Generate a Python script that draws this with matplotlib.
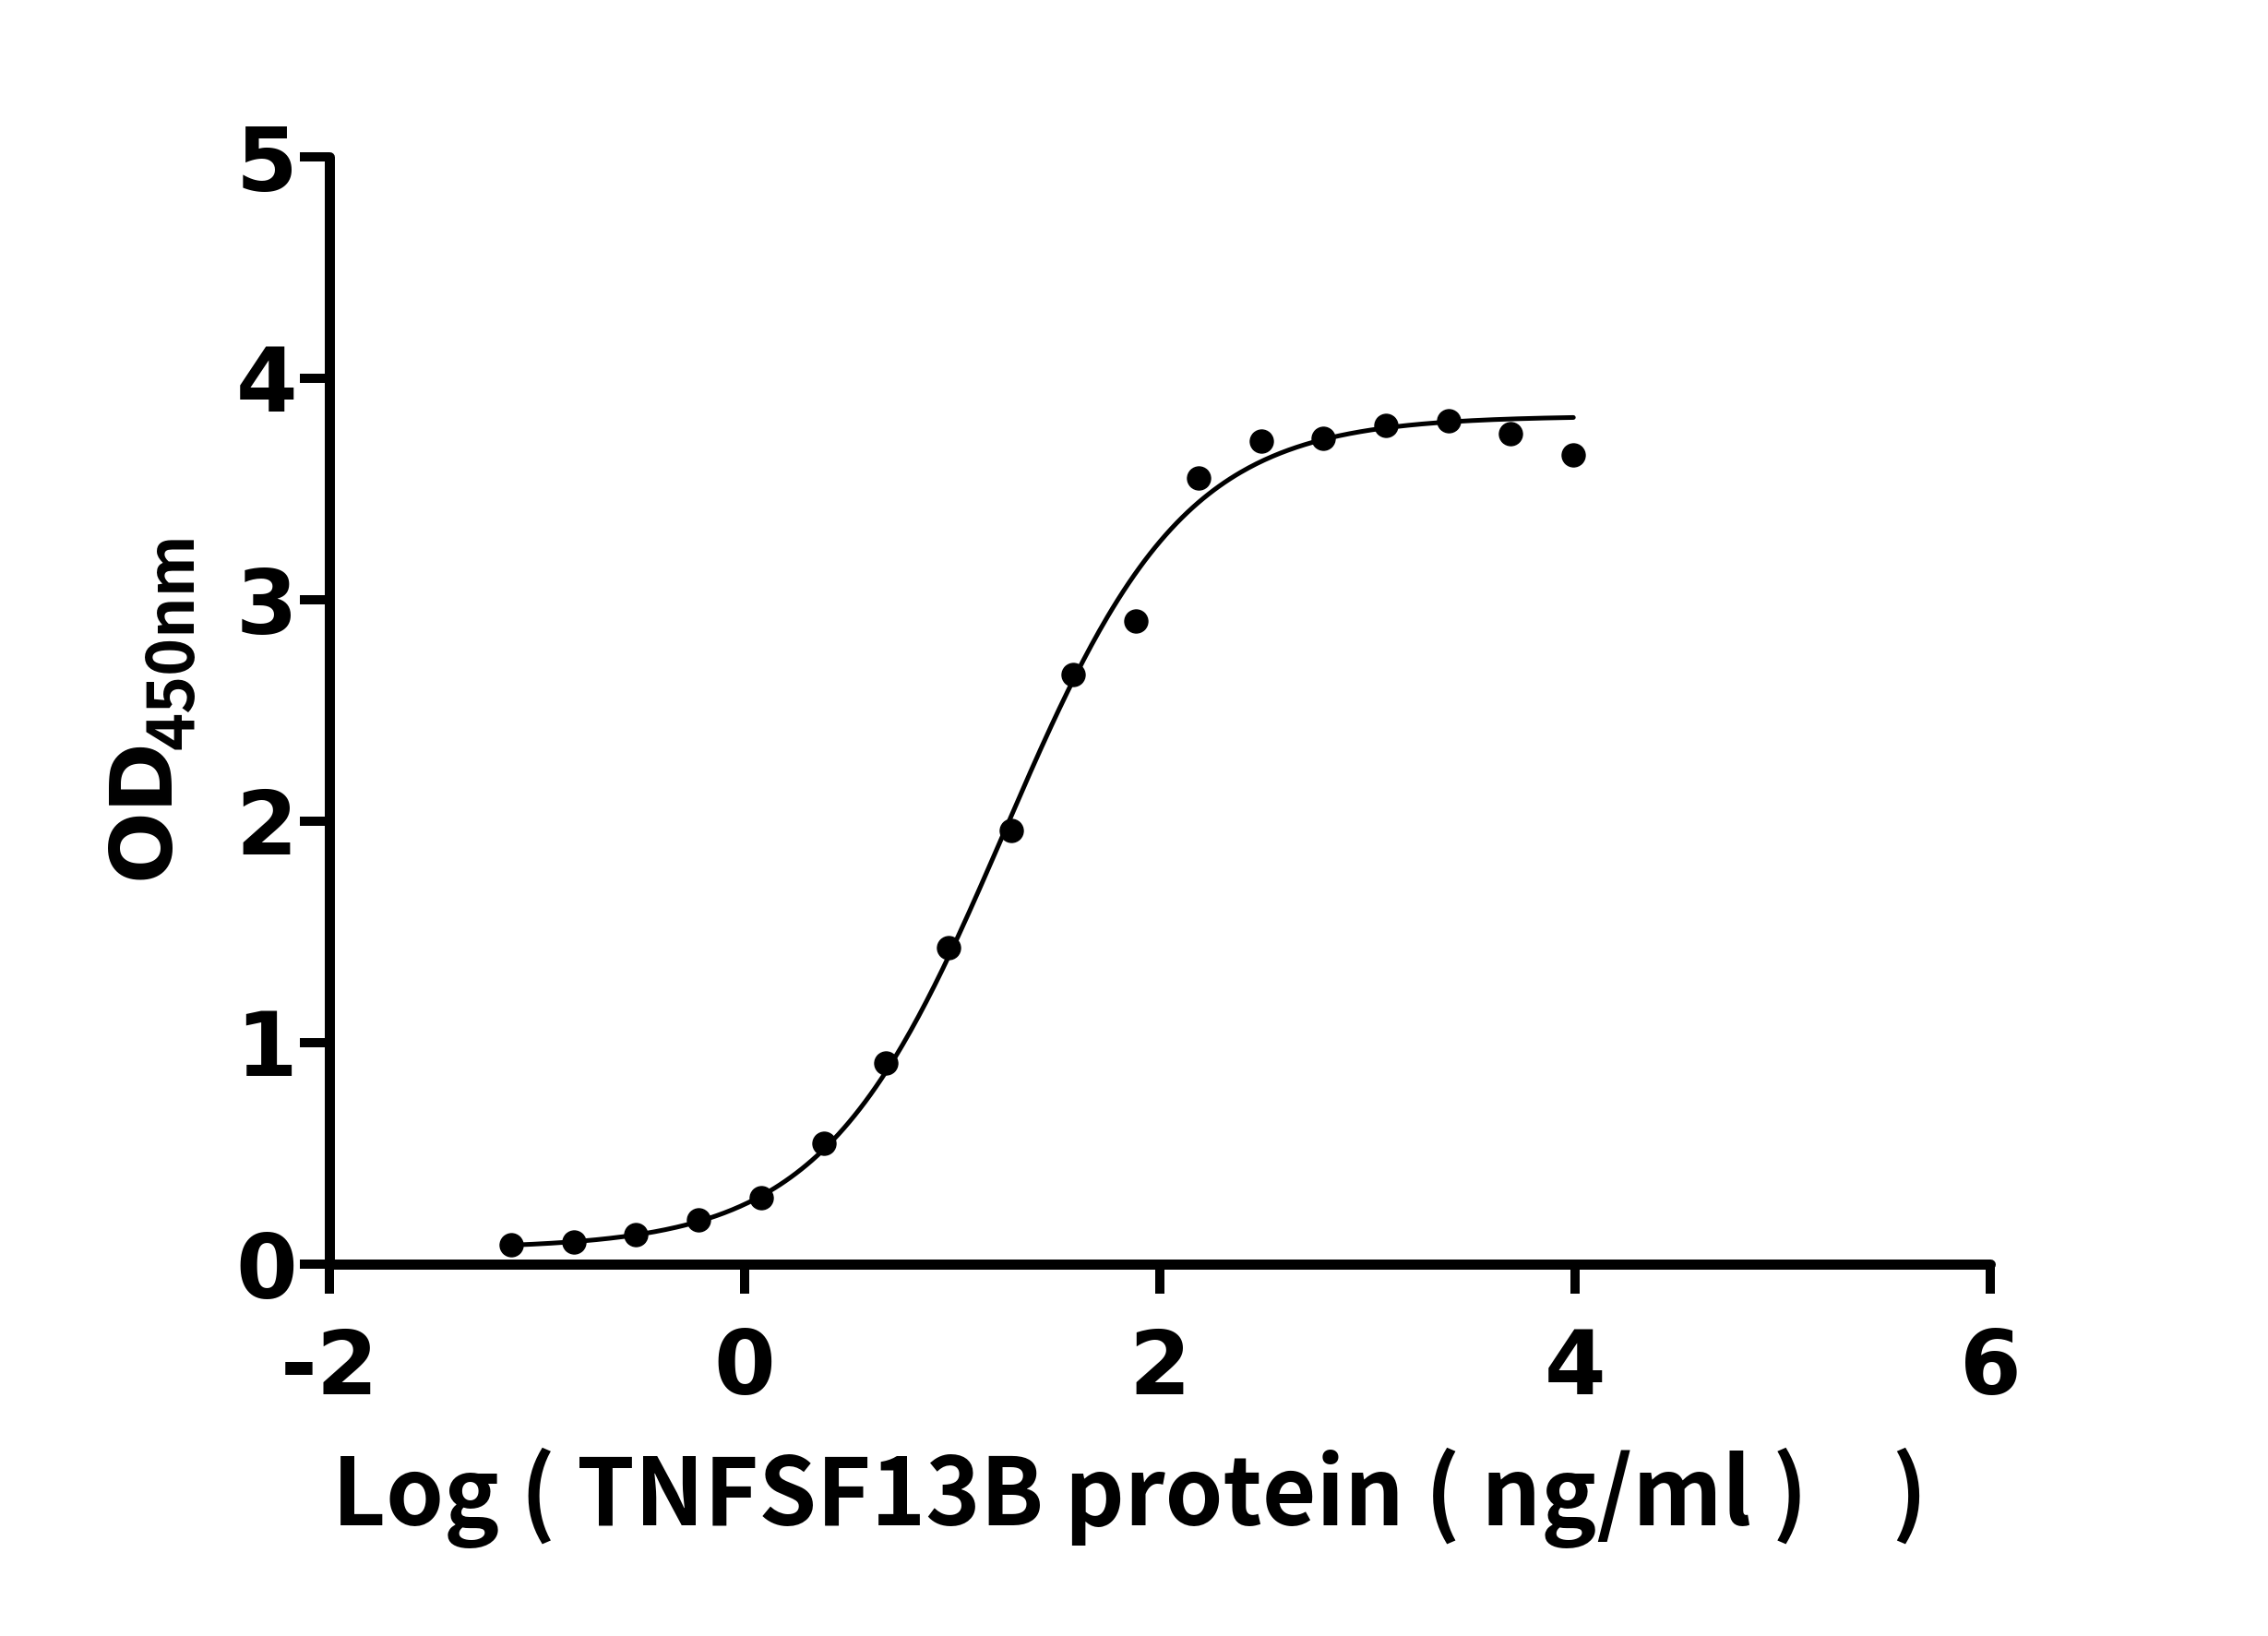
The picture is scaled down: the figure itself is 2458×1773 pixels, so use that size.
import numpy as np
import matplotlib
matplotlib.use('Agg')
import matplotlib.pyplot as plt

plt.rcParams['axes.unicode_minus'] = False

# measured points: log concentration (ng/ml) vs OD450
log_conc = [-1.125, -0.824, -0.523, -0.222, 0.079, 0.380, 0.681, 0.982, 1.283,
            1.584, 1.885, 2.186, 2.487, 2.788, 3.089, 3.390, 3.691, 3.992]
od450 = [0.086, 0.101, 0.132, 0.201, 0.299, 0.545, 0.910, 1.431, 1.958,
         2.664, 2.904, 3.552, 3.716, 3.729, 3.786, 3.807, 3.748, 3.656]

# four parameter logistic fit shown as the line
fit_bottom = 0.07
fit_top = 3.83
fit_logec50 = 1.25
fit_hill = 1.0

xticks = [-2, 0, 2, 4, 6]
yticks = [0, 1, 2, 3, 4, 5]
xlabel = 'Log ( TNFSF13B protein ( ng/ml )    )'

W, H = 2458, 1773
fig = plt.figure(figsize=(W / 100, H / 100), dpi=100, facecolor='white')
ax = fig.add_axes([357 / W, 1 - 1370 / H, 1800 / W, 1200 / H])

xfit = np.linspace(log_conc[0], log_conc[-1], 400)
yfit = fit_bottom + (fit_top - fit_bottom) / (1 + 10 ** ((fit_logec50 - xfit) * fit_hill))
ax.plot(xfit, yfit, color='black', lw=3.6, solid_capstyle='round', zorder=2)
ax.plot(log_conc, od450, 'o', color='black', markersize=18, zorder=3)

ax.set_xlim(-2, 6)
ax.set_ylim(0, 5)
ax.set_xticks(xticks)
ax.set_yticks(yticks)
ax.set_xticklabels([str(v) for v in xticks])
ax.set_yticklabels([str(v) for v in yticks])

for s in ['top', 'right']:
    ax.spines[s].set_visible(False)
for s in ['left', 'bottom']:
    ax.spines[s].set_linewidth(7.9)
    ax.spines[s].set_capstyle('round')

ax.tick_params(axis='both', direction='out', length=23, width=7.2, color='black')
ax.tick_params(axis='x', pad=26)
ax.tick_params(axis='y', pad=2)
for lab in ax.get_xticklabels() + ax.get_yticklabels():
    lab.set_fontsize(69)
    lab.set_fontweight('bold')
    lab.set_family('DejaVu Sans')

# y label: OD with subscript 450nm
fig.text(182 / W, 1 - 953 / H, 'OD', rotation=90, rotation_mode='anchor',
         ha='left', va='baseline', fontsize=66, fontweight='bold', family='DejaVu Sans')
fig.text(210 / W, 1 - 812 / H, '450nm', rotation=90, rotation_mode='anchor',
         ha='left', va='baseline', fontsize=50, fontweight='bold',
         family=['Noto Sans CJK SC', 'DejaVu Sans'])

fig.text(360 / W, 1 - 1653 / H, xlabel, ha='left', va='baseline', fontsize=72.5,
         fontweight='bold', family=['Noto Sans CJK SC', 'DejaVu Sans'])

fig.savefig('out.png', dpi=100, facecolor='white')
